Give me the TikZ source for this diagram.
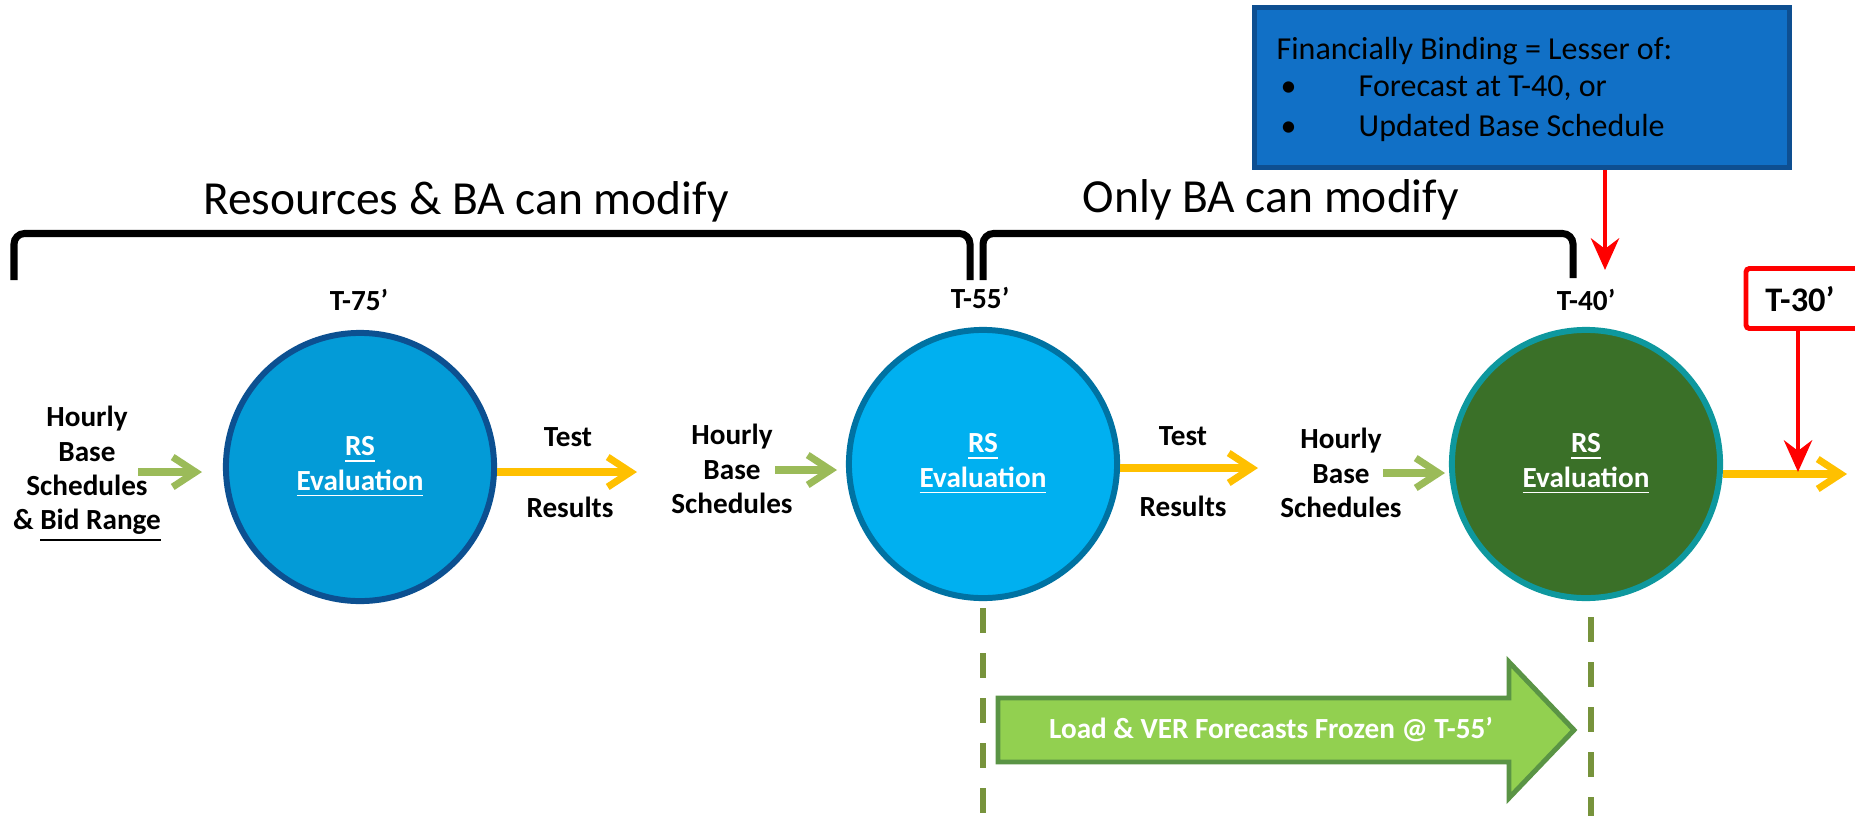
\documentclass[tikz,border=0pt]{standalone}
\usepackage{fontspec}
\setmainfont{Carlito}
\usepackage{tikz}
\usetikzlibrary{positioning,arrows.meta}
\definecolor{rsblue}{HTML}{039BD7}
\definecolor{rsbluedark}{HTML}{0C5091}
\definecolor{rscyan}{HTML}{00B0F0}
\definecolor{rscyandark}{HTML}{0072A2}
\definecolor{rsgreen}{HTML}{3A7028}
\definecolor{rsteal}{HTML}{0E989E}
\definecolor{inputgreen}{HTML}{9BBB59}
\definecolor{resultyellow}{HTML}{FFC000}
\definecolor{frozendash}{HTML}{77933C}
\definecolor{frozenfill}{HTML}{92D050}
\definecolor{frozenborder}{HTML}{5A9445}
\definecolor{fbblue}{HTML}{1170C6}
\definecolor{fbborder}{HTML}{0E4F91}
\newcommand{\tagfont}{\fontsize{8.3}{9.8}\selectfont\bfseries}

\begin{document}
\begin{tikzpicture}[x=0.01cm, y=-0.01cm,
    bracket/.style={line width=2pt, rounded corners=3pt},
    title/.style={anchor=base, font=\fontsize{13.5}{16}\selectfont},
    rs/.style={circle, minimum size=2.68cm, line width=1.7pt, text=white, align=center, font=\tagfont},
    lbl/.style={align=center, font=\tagfont},
    inarrow/.style={draw=inputgreen, line width=2pt, -{Straight Barb[length=6.5pt, width=8.5pt]}},
    outarrow/.style={draw=resultyellow, line width=2pt, -{Straight Barb[length=6.5pt, width=8.5pt]}},
    redarrow/.style={draw=red, line width=1.4pt, -{Stealth[length=9pt, width=8pt, inset=3pt]}},
    frozen/.style={draw=frozendash, line width=1.7pt, dash pattern=on 7.1pt off 5.7pt},
    fbtext/.style={anchor=base west, inner sep=0pt, font=\fontsize{9.1}{10.9}\selectfont}]
      \clip (0, 0) rectangle (1855, 815);
      \node[title] (resmod) at (466, 214) {Resources \& BA can modify};
      \node[title] (bamod) at (1271, 212) {Only BA can modify};
      \draw[bracket] (14, 280) -- (14, 233.5) -- (970, 233.5) -- (970, 280);
      \draw[bracket] (983, 280) -- (983, 233.5) -- (1573, 233.5) -- (1573, 278);
      \node[draw=fbborder, fill=fbblue, line width=1.4pt, minimum width=5.34cm, minimum height=1.59cm] (binding) at (1522, 87.5) {};
      \node[fbtext] (fbhead) at (1276, 59) {Financially Binding = Lesser of:};
      \node[fbtext] (fbitema) at (1280, 97) {\makebox[0.78cm][l]{\textbullet}Forecast at T-40, or};
      \node[fbtext] (fbitemb) at (1280, 136) {\makebox[0.78cm][l]{\textbullet}Updated Base Schedule};
      \node[rs, fill=rsblue, draw=rsbluedark] (rsa) at (360, 467) {\underline{RS}\\\underline{Evaluation}};
      \node[rs, fill=rscyan, draw=rscyandark] (rsb) at (983, 464) {\underline{RS}\\\underline{Evaluation}};
      \node[rs, fill=rsgreen, draw=rsteal] (rsc) at (1586, 464) {\underline{RS}\\\underline{Evaluation}};
      \node[lbl] (t75) at (359, 300) {T-75’};
      \node[lbl] (t55) at (980, 298) {T-55’};
      \node[lbl] (t40) at (1586, 300) {T-40’};
      \node[draw=red, fill=white, line width=1.4pt, rounded corners=1pt, minimum width=1.3cm, minimum height=0.6cm] (t30box) at (1811, 298.5) {};
      \node[lbl, font=\fontsize{9.8}{11}\selectfont\bfseries] (t30) at (1800, 299) {T-30’};
      \node[lbl] (hbsa) at (87, 474) {Hourly\\Base\\Schedules\\\& \underline{Bid Range}};
      \node[lbl] (hbsb) at (732, 469) {Hourly\\Base\\Schedules};
      \node[lbl] (hbsc) at (1341, 473) {Hourly\\Base\\Schedules};
      \node[lbl] (testa) at (568, 437) {Test};
      \node[lbl] (resulta) at (570, 507) {Results};
      \node[lbl] (testb) at (1183, 436) {Test};
      \node[lbl] (resultb) at (1183, 506) {Results};
      \coordinate (ina) at (138, 472);
      \coordinate (inb) at (775, 470);
      \coordinate (inc) at (1383, 473);
      \coordinate (outa) at (637, 472);
      \coordinate (outb) at (1258, 468);
      \coordinate (outc) at (1847, 474);
      \coordinate (t40tip) at (1605, 270);
      \coordinate (t30tip) at (1798, 472);
      \coordinate (frza) at (983, 608);
      \coordinate (frzb) at (1591, 617);
      \draw[inarrow] (ina) -- ++(64, 0);
      \draw[inarrow] (inb) -- ++(62, 0);
      \draw[inarrow] (inc) -- ++(62, 0);
      \draw[outarrow] (rsa.east |- outa) -- (outa);
      \draw[outarrow] (rsb.east |- outb) -- (outb);
      \draw[outarrow] (rsc.east |- outc) -- (outc);
      \draw[redarrow] (binding.south -| t40tip) -- (t40tip);
      \draw[redarrow] (t30box.south -| t30tip) -- (t30tip);
      \draw[frozen] (frza) -- ++(0, 220);
      \draw[frozen] (frzb) -- ++(0, 220);
      \draw[draw=frozenborder, fill=frozenfill, line width=1.4pt, line join=miter]
            (998, 698) -- (1509, 698) -- (1509, 662) -- (1574, 730) -- (1509, 798) -- (1509, 762) -- (998, 762) -- cycle;
      \node[lbl, text=white] (frozenlbl) at (1271, 730) {Load \& VER Forecasts Frozen @ T-55’};
\end{tikzpicture}
\end{document}
